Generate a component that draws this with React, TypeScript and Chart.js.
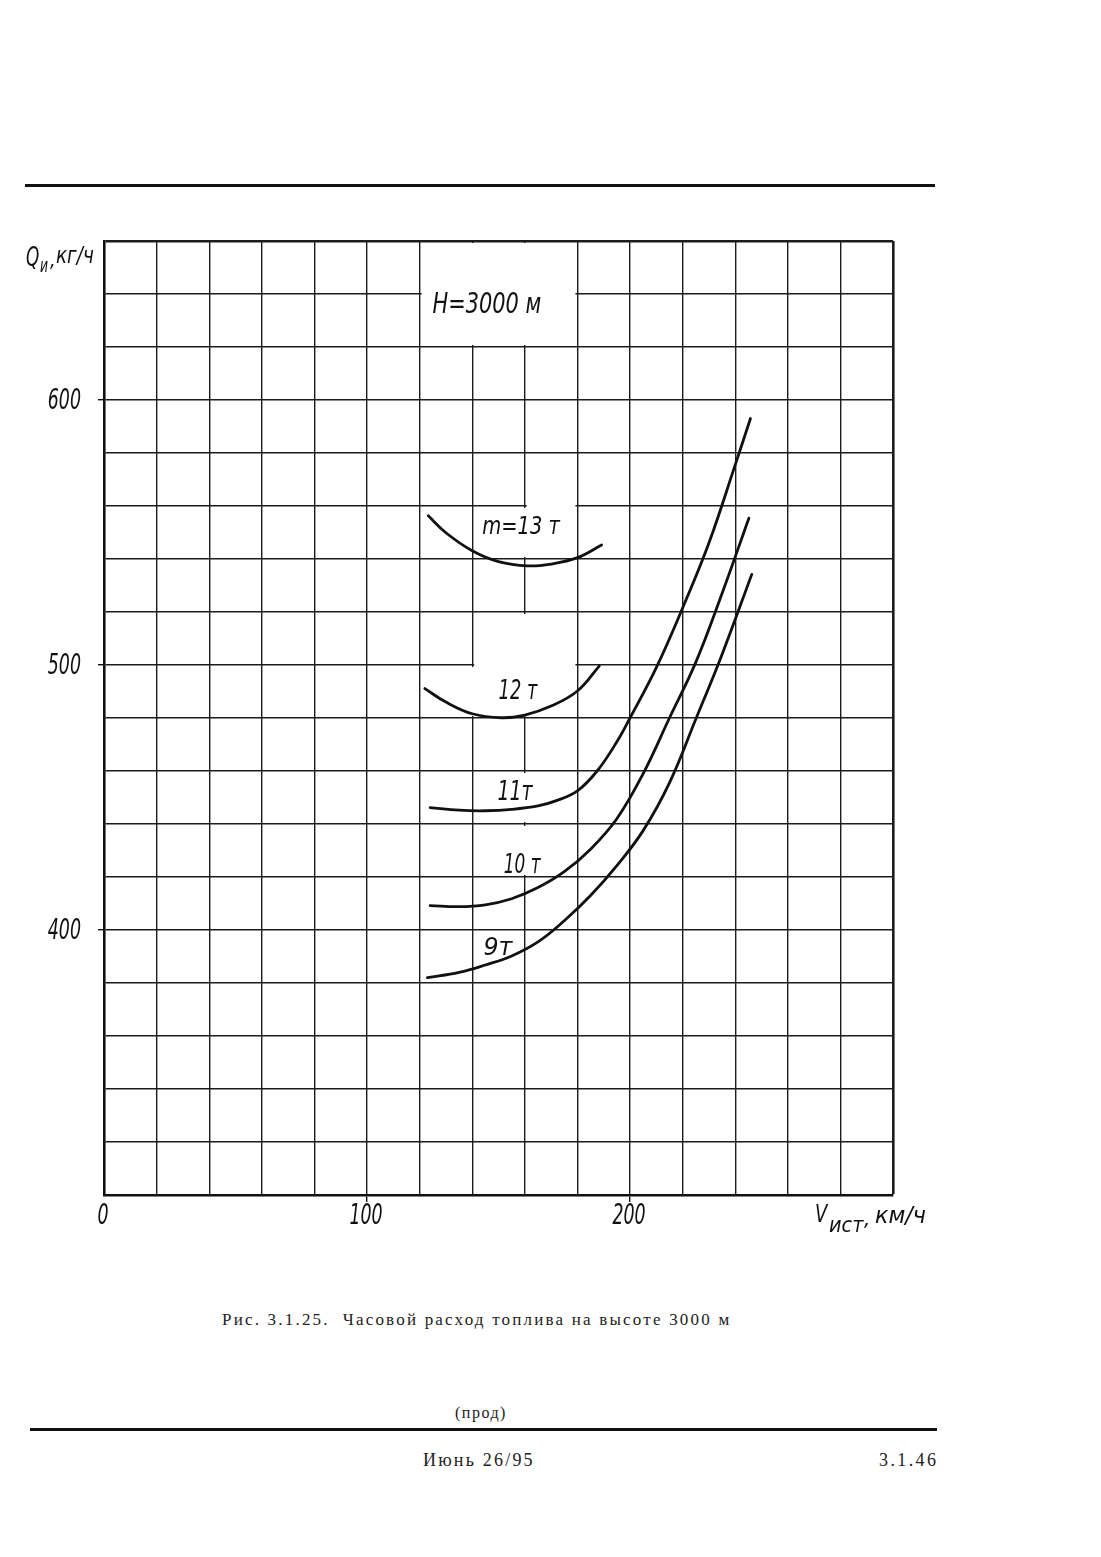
import React, { useEffect, useRef } from "react";
import { Chart, registerables } from "chart.js";

Chart.register(...registerables);

// ---- axis ticks (km/h and kg/h) ----
const SPEED_TICKS = [0, 100, 200];
const FUEL_TICKS = [400, 500, 600];

// ---- curves: V (km/h) and Q (kg/h) for each mass ----
const V_13T = [123.3, 130, 140, 150, 161, 170, 180, 189.2];
const Q_13T = [556.3, 549.9, 543.1, 539, 537.4, 538.1, 540.5, 545.3];

const V_12T = [122, 130, 140, 151, 160, 170, 180, 188.3];
const Q_12T = [491.1, 486, 481.6, 480.1, 481.1, 484.5, 490.2, 499.6];

const V_11T = [124, 135, 145, 155, 165, 172, 180, 187.5, 195, 200, 210, 220, 230, 240, 245.8];
const Q_11T = [446.2, 445.2, 445, 445.5, 446.8, 448.8, 452.5, 460, 471, 480, 499, 521.5, 546, 575.5, 593];

const V_10T = [124, 135, 145, 155, 165, 175, 185, 195, 205, 215, 225, 235, 245.2];
const Q_10T = [409.2, 408.8, 409.5, 411.8, 416, 422, 430.5, 442, 459, 480, 501, 527, 555.4];

const V_9T = [123, 135, 145, 155, 165, 175, 185, 195, 205, 215, 225, 235, 246.3];
const Q_9T = [382, 384, 386.8, 390.2, 395.5, 403.5, 413, 424.3, 437.5, 455.5, 479.5, 504, 534.2];

// ---- in-plot annotation texts, anchored in data coordinates ----
const LABEL_TEXT = ["H=3000 м", "m=13 т", "12 т", "11т", "10 т", "9т"];
const LABEL_V = [145.6, 158.6, 157.4, 156.3, 159, 149.8];
const LABEL_Q = [635.6, 551.9, 489.7, 451.5, 424.2, 393.2];

// ---- grid segments left blank around the annotations ----
const GAP_H_Q = [640, 560, 500];
const GAP_H_V1 = [120, 160, 140];
const GAP_H_V2 = [180, 180, 180];
const GAP_V_V = [140, 160, 160, 160, 140, 160, 160];
const GAP_V_Q1 = [620, 620, 540, 480, 480, 440, 420];
const GAP_V_Q2 = [660, 660, 560, 520, 500, 460, 440];

const HAND = '"DejaVu Sans", "Liberation Sans", sans-serif';
const LABEL_STYLE = [
  { size: 29, sx: 0.72 },
  { size: 25, sx: 0.78 },
  { size: 27, sx: 0.66 },
  { size: 26, sx: 0.73 },
  { size: 26, sx: 0.65 },
  { size: 25, sx: 0.95 },
];

function drawText(
  ctx: CanvasRenderingContext2D,
  text: string,
  px: number,
  py: number,
  size: number,
  sx: number,
  align: CanvasTextAlign,
  baseline: CanvasTextBaseline
) {
  ctx.save();
  ctx.translate(px, py);
  ctx.scale(sx, 1);
  ctx.font = `italic ${size}px ${HAND}`;
  ctx.fillStyle = "#111";
  ctx.textAlign = align;
  ctx.textBaseline = baseline;
  ctx.fillText(text, 0, 0);
  ctx.restore();
}

const handPlugin = {
  id: "handDrawn",
  beforeDatasetsDraw(chart: any) {
    const { ctx } = chart;
    const x = chart.scales.x;
    const y = chart.scales.y;
    ctx.save();
    ctx.fillStyle = "#fff";
    GAP_H_Q.forEach((q: number, i: number) => {
      const x1 = x.getPixelForValue(GAP_H_V1[i]) + 2;
      const x2 = x.getPixelForValue(GAP_H_V2[i]) - 2;
      const py = y.getPixelForValue(q);
      ctx.fillRect(x1, py - 3, x2 - x1, 6);
    });
    GAP_V_V.forEach((v: number, i: number) => {
      const y1 = y.getPixelForValue(GAP_V_Q2[i]) + 2;
      const y2 = y.getPixelForValue(GAP_V_Q1[i]) - 2;
      const px = x.getPixelForValue(v);
      ctx.fillRect(px - 3, y1, 6, y2 - y1);
    });
    ctx.restore();
  },
  afterDatasetsDraw(chart: any) {
    const { ctx } = chart;
    const x = chart.scales.x;
    const y = chart.scales.y;
    const area = chart.chartArea;

    // tick labels
    SPEED_TICKS.forEach((v: number) => {
      drawText(ctx, String(v), x.getPixelForValue(v) - 1, area.bottom + 21, 29, 0.6, "center", "middle");
    });
    FUEL_TICKS.forEach((q: number) => {
      drawText(ctx, String(q), area.left - 23, y.getPixelForValue(q) + 1, 29, 0.6, "right", "middle");
    });

    // annotations
    LABEL_TEXT.forEach((t: string, i: number) => {
      drawText(
        ctx,
        t,
        x.getPixelForValue(LABEL_V[i]),
        y.getPixelForValue(LABEL_Q[i]),
        LABEL_STYLE[i].size,
        LABEL_STYLE[i].sx,
        "center",
        "middle"
      );
    });

    // y axis title: Q_и, кг/ч
    const yt = area.top;
    drawText(ctx, "Q", 26, yt + 25, 26, 0.65, "left", "alphabetic");
    drawText(ctx, "и", 40, yt + 31, 19, 0.65, "left", "alphabetic");
    drawText(ctx, ",", 50, yt + 26, 22, 0.8, "left", "alphabetic");
    drawText(ctx, "кг/ч", 56, yt + 22, 23, 0.8, "left", "alphabetic");

    // x axis title: V_ист, км/ч
    const xb = area.bottom;
    drawText(ctx, "V", 815, xb + 27, 24, 0.75, "left", "alphabetic");
    drawText(ctx, "ист", 829, xb + 37, 21, 0.92, "left", "alphabetic");
    drawText(ctx, ",", 864, xb + 31, 22, 0.9, "left", "alphabetic");
    drawText(ctx, "км/ч", 875, xb + 28, 23, 0.97, "left", "alphabetic");
  },
};

function series(vs: number[], qs: number[], label: string) {
  return {
    label,
    data: vs.map((v, i) => ({ x: v, y: qs[i] })),
    borderColor: "#111",
    borderWidth: 2.8,
    pointRadius: 0,
    fill: false,
    tension: 0.4,
    borderCapStyle: "round" as const,
    borderJoinStyle: "round" as const,
  };
}

export default function App() {
  const canvasRef = useRef<HTMLCanvasElement | null>(null);

  useEffect(() => {
    const canvas = canvasRef.current;
    if (!canvas) return;
    const gridWidth = (c: any, edge: number) =>
      c.tick && c.tick.value === edge ? 2.6 : 1.4;
    const chart = new Chart(canvas, {
      type: "line",
      data: {
        datasets: [
          series(V_13T, Q_13T, "m=13 т"),
          series(V_12T, Q_12T, "12 т"),
          series(V_11T, Q_11T, "11 т"),
          series(V_10T, Q_10T, "10 т"),
          series(V_9T, Q_9T, "9 т"),
        ],
      },
      options: {
        responsive: false,
        animation: false,
        devicePixelRatio: 1,
        layout: { padding: { left: 0, top: 41, right: 208, bottom: 25 } },
        plugins: {
          legend: { display: false },
          tooltip: { enabled: false },
          title: { display: false },
        },
        scales: {
          x: {
            type: "linear",
            min: 0,
            max: 300,
            ticks: { stepSize: 20, display: false },
            grid: {
              color: "#1c1c1c",
              lineWidth: (c: any) => gridWidth(c, 300),
              drawTicks: true,
              tickLength: 7,
              tickColor: (c: any) =>
                c.tick && c.tick.value !== 0 && SPEED_TICKS.includes(c.tick.value)
                  ? "#111"
                  : "rgba(0,0,0,0)",
            },
            border: { display: true, color: "#111", width: 2.6 },
            afterFit: (s: any) => {
              s.height = 40;
            },
          },
          y: {
            type: "linear",
            min: 300,
            max: 660,
            ticks: { stepSize: 20, display: false },
            grid: {
              color: "#1c1c1c",
              lineWidth: (c: any) => gridWidth(c, 660),
              drawTicks: true,
              tickLength: 6,
              tickColor: (c: any) =>
                c.tick && FUEL_TICKS.includes(c.tick.value) ? "#111" : "rgba(0,0,0,0)",
            },
            border: { display: true, color: "#111", width: 2.6 },
            afterFit: (s: any) => {
              s.width = 104;
            },
          },
        },
      } as any,
      plugins: [handPlugin],
    });
    return () => chart.destroy();
  }, []);

  const serif = '"Liberation Serif", "DejaVu Serif", serif';
  const abs = (o: React.CSSProperties): React.CSSProperties => ({ position: "absolute", ...o });

  return (
    <div
      style={{
        position: "absolute",
        left: 0,
        top: 0,
        width: 1101,
        height: 1557,
        background: "#fff",
        overflow: "hidden",
      }}
    >
      <div style={abs({ left: 25, top: 184, width: 910, height: 3, background: "#111" })} />
      <canvas
        ref={canvasRef}
        width={1101}
        height={1060}
        style={abs({ left: 0, top: 200, width: 1101, height: 1060 })}
      />
      <div
        style={abs({
          left: 222,
          top: 1311,
          fontFamily: serif,
          fontSize: 17,
          lineHeight: "17px",
          letterSpacing: "2.2px",
          whiteSpace: "pre",
          color: "#222",
        })}
      >
        {"Рис. 3.1.25.  Часовой расход топлива на высоте 3000 м"}
      </div>
      <div
        style={abs({
          left: 455,
          top: 1405,
          fontFamily: serif,
          fontSize: 16,
          lineHeight: "16px",
          letterSpacing: "1.5px",
          whiteSpace: "pre",
          color: "#222",
        })}
      >
        (прод)
      </div>
      <div style={abs({ left: 30, top: 1428, width: 907, height: 3, background: "#111" })} />
      <div
        style={abs({
          left: 423,
          top: 1451,
          fontFamily: serif,
          fontSize: 18,
          lineHeight: "18px",
          letterSpacing: "2.2px",
          whiteSpace: "pre",
          color: "#222",
        })}
      >
        Июнь 26/95
      </div>
      <div
        style={abs({
          left: 879,
          top: 1451,
          fontFamily: serif,
          fontSize: 18,
          lineHeight: "18px",
          letterSpacing: "2.4px",
          whiteSpace: "pre",
          color: "#222",
        })}
      >
        3.1.46
      </div>
    </div>
  );
}
